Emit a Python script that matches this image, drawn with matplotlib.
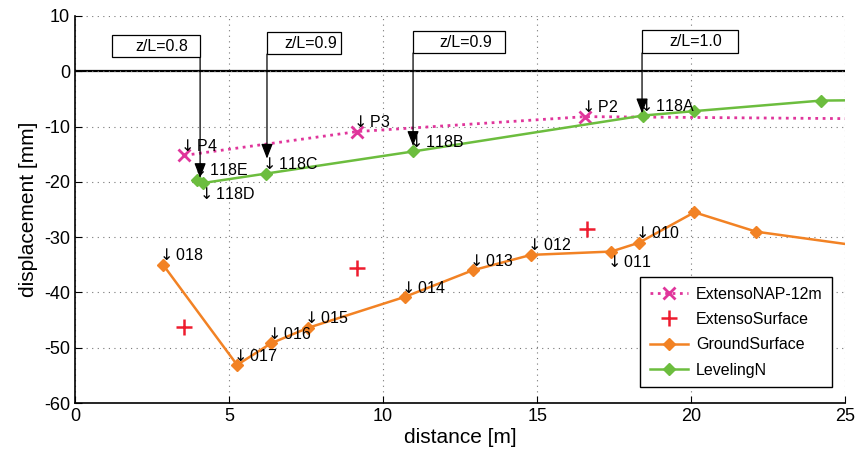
import matplotlib.pyplot as plt
from matplotlib.patches import Rectangle

plt.rcParams['font.family'] = ['Liberation Sans', 'DejaVu Sans']
plt.rcParams['axes.unicode_minus'] = False

# ExtensoNAP-12m (dotted magenta); last point lies beyond the x-limit
nap_x = [3.55, 9.16, 16.56, 26.0]
nap_y = [-15.2, -10.9, -8.2, -8.6]
nap_labels = ["P4", "P3", "P2", None]

# ExtensoSurface (red +)
surf_x = [3.55, 9.16, 16.6]
surf_y = [-46.3, -35.5, -28.5]

# GroundSurface (orange)
ground_x = [2.86, 5.26, 6.36, 7.56, 10.7, 12.9, 14.8, 17.4, 18.3, 20.1, 22.1, 26.0]
ground_y = [-35.0, -53.1, -49.2, -46.4, -40.8, -36.0, -33.2, -32.6, -31.0, -25.5, -29.0, -32.0]
ground_labels = ["018", "017", "016", "015", "014", "013", "012", "011", "010", None, None, None]

# LevelingN (green)
level_x = [3.95, 4.16, 6.2, 10.97, 18.44, 20.1, 24.2, 26.0]
level_y = [-19.6, -20.2, -18.5, -14.5, -8.0, -7.2, -5.3, -5.2]
level_labels = ["118E", "118D", "118C", "118B", "118A", None, None, None]

below = {"118D", "011"}

# z/L annotation boxes: text, left, right, bottom, top, line x, arrow tip y
zl_text = ["z/L=0.8", "z/L=0.9", "z/L=0.9", "z/L=1.0"]
zl_left = [1.2, 6.23, 10.97, 18.4]
zl_right = [4.06, 8.64, 13.96, 21.5]
zl_bottom = [2.5, 3.1, 3.3, 3.3]
zl_top = [6.5, 7.1, 7.2, 7.4]
zl_linex = [4.06, 6.23, 10.97, 18.4]
zl_tip = [-19.3, -15.8, -13.5, -7.6]

c_nap = "#E0359B"
c_surf = "#EE1C2E"
c_ground = "#F28224"
c_level = "#6CBD3E"

fig = plt.figure(figsize=(8.57, 4.57), dpi=100)
ax = fig.add_axes([0.0875, 0.118, 0.899, 0.847])

ax.plot(nap_x, nap_y, ls=":", color=c_nap, lw=2, marker="x", ms=8, mew=2,
        markevery=[0, 1, 2], label="ExtensoNAP-12m")
ax.plot(surf_x, surf_y, ls="none", color=c_surf, marker="+", ms=12, mew=1.8,
        label="ExtensoSurface")
ax.plot(ground_x, ground_y, color=c_ground, lw=1.8, marker="D", ms=6,
        label="GroundSurface")
ax.plot(level_x, level_y, color=c_level, lw=1.8, marker="D", ms=6,
        label="LevelingN")

ax.axhline(0, color="black", lw=1.6, zorder=1)

for xs, ys, labs in [(nap_x, nap_y, nap_labels), (ground_x, ground_y, ground_labels),
                     (level_x, level_y, level_labels)]:
    for x, y, lab in zip(xs, ys, labs):
        if lab is None:
            continue
        txt = r"$\downarrow$" + lab
        if lab in below:
            ax.annotate(txt, (x, y), xytext=(-5, -2), textcoords="offset points",
                        ha="left", va="top", fontsize=11.5)
        else:
            ax.annotate(txt, (x, y), xytext=(-5, 1), textcoords="offset points",
                        ha="left", va="bottom", fontsize=11.5)

for t, l, r, b, tp, lx, tip in zip(zl_text, zl_left, zl_right, zl_bottom, zl_top, zl_linex, zl_tip):
    ax.add_patch(Rectangle((l, b), r - l, tp - b, facecolor="white", edgecolor="black",
                           lw=0.9, zorder=5))
    ax.text((l + r) / 2 + 0.2, (b + tp) / 2, t, ha="center", va="center", fontsize=11.5, zorder=6)
    ax.annotate("", xy=(lx, tip), xytext=(lx, b),
                arrowprops=dict(arrowstyle="-|>,head_width=0.35,head_length=0.9",
                                color="black", lw=0.9, shrinkA=0, shrinkB=0), zorder=4)

ax.set_xlim(0, 25)
ax.set_ylim(-60, 10)
ax.set_xticks([0, 5, 10, 15, 20, 25])
ax.set_yticks([-60, -50, -40, -30, -20, -10, 0, 10])
ax.tick_params(direction="in", labelsize=13, length=5)
ax.grid(True, ls=(0, (1, 4)), color="#777777", lw=0.8)
ax.spines["top"].set_visible(False)
ax.spines["right"].set_visible(False)
ax.spines["left"].set_linewidth(1.2)
ax.spines["bottom"].set_linewidth(1.2)
ax.set_xlabel("distance [m]", fontsize=15, labelpad=2)
ax.set_ylabel("displacement [mm]", fontsize=15, labelpad=4)

leg = ax.legend(loc="lower right", fontsize=11.5, fancybox=False, framealpha=1,
                edgecolor="black", borderpad=0.6, labelspacing=0.65, handlelength=2.4,
                handletextpad=0.5, bbox_to_anchor=(0.993, 0.02))
leg.get_frame().set_linewidth(1.0)

fig.savefig("out.png", dpi=100)
